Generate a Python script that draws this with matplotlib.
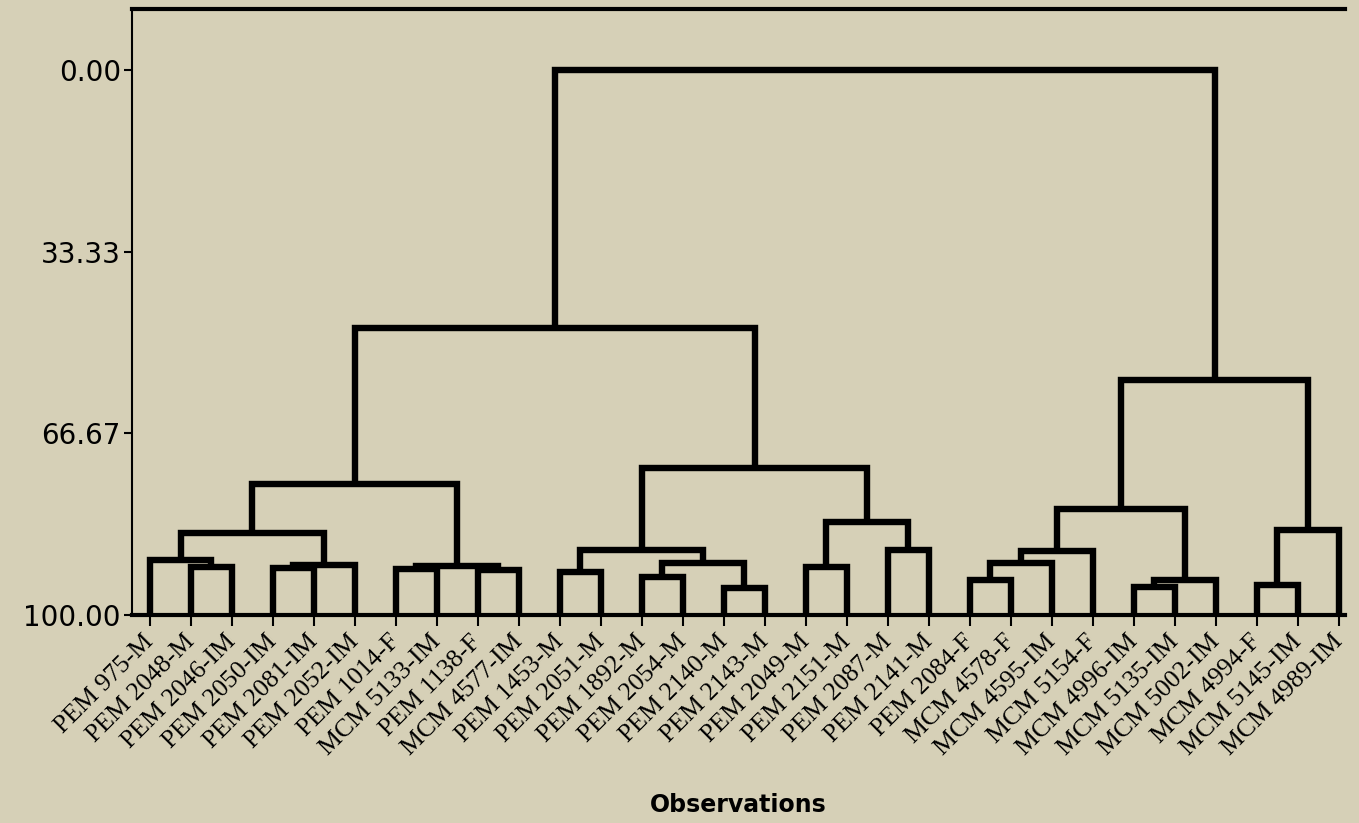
import matplotlib
matplotlib.use("Agg")
import matplotlib.pyplot as plt

# leaf labels in dendrogram order
labels = ["PEM 975-M", "PEM 2048-M", "PEM 2046-IM", "PEM 2050-IM", "PEM 2081-IM",
          "PEM 2052-IM", "PEM 1014-F", "MCM 5133-IM", "PEM 1138-F", "MCM 4577-IM",
          "PEM 1453-M", "PEM 2051-M", "PEM 1892-M", "PEM 2054-M", "PEM 2140-M",
          "PEM 2143-M", "PEM 2049-M", "PEM 2151-M", "PEM 2087-M", "PEM 2141-M",
          "PEM 2084-F", "MCM 4578-F", "MCM 4595-IM", "MCM 5154-F", "MCM 4996-IM",
          "MCM 5135-IM", "MCM 5002-IM", "MCM 4994-F", "MCM 5145-IM", "MCM 4989-IM"]

# merges: ids < 30 are leaves, new cluster ids start at 30 (scipy style)
merge_left = [1, 0, 3, 32, 31, 6, 8, 35, 34, 10, 12, 14, 40, 39, 16, 18, 44, 43, 38,
              20, 49, 50, 24, 52, 51, 27, 55, 54, 48]
merge_right = [2, 30, 4, 5, 33, 7, 9, 36, 37, 11, 13, 15, 41, 42, 17, 19, 45, 46, 47,
               21, 22, 23, 25, 26, 53, 28, 29, 56, 57]
similarity = [91.2, 89.9, 91.4, 90.8, 85.0, 91.6, 91.7, 91.0, 76.0, 92.1, 93.0, 95.0,
              90.5, 88.1, 91.2, 88.1, 82.9, 73.0, 47.3, 93.6, 90.5, 88.3, 94.9, 93.6,
              80.5, 94.5, 84.4, 56.9, 0.0]

ytick_vals = [0.0, 33.33, 66.67, 100.0]
ytick_text = ["0.00", "33.33", "66.67", "100.00"]

bg = "#d6d0b7"
n = len(labels)

fig = plt.figure(figsize=(13.59, 8.23), dpi=100, facecolor=bg)
ax = fig.add_axes([0.0971, 0.2527, 0.8926, 0.7363], facecolor=bg)

xs = {i: float(i) for i in range(n)}
ys = {i: 100.0 for i in range(n)}
for k, (a, b, h) in enumerate(zip(merge_left, merge_right, similarity)):
    ax.plot([xs[a], xs[a], xs[b], xs[b]], [ys[a], h, h, ys[b]],
            color="black", lw=4.6, solid_joinstyle="miter", solid_capstyle="butt")
    xs[n + k] = (xs[a] + xs[b]) / 2
    ys[n + k] = h

ax.set_xlim(-0.44, 29.15)
ax.set_ylim(100, -11.2)

ax.set_yticks(ytick_vals)
ax.set_yticklabels(ytick_text, fontsize=20, family="DejaVu Sans")
ax.set_xticks(range(n))
ax.set_xticklabels(labels, rotation=45, ha="right", va="center", rotation_mode="anchor",
                   fontsize=18.5, family="Liberation Serif")
ax.tick_params(axis="y", length=6, width=1.5, pad=2)
ax.tick_params(axis="x", length=8, width=1.5, pad=9)

ax.spines["right"].set_visible(False)
ax.spines["left"].set_linewidth(1.5)
ax.spines["top"].set_linewidth(3)
ax.spines["bottom"].set_linewidth(3)

ax.set_xlabel("Observations", fontsize=17, fontweight="bold", labelpad=24)

fig.savefig("out.png", dpi=100, facecolor=bg)
